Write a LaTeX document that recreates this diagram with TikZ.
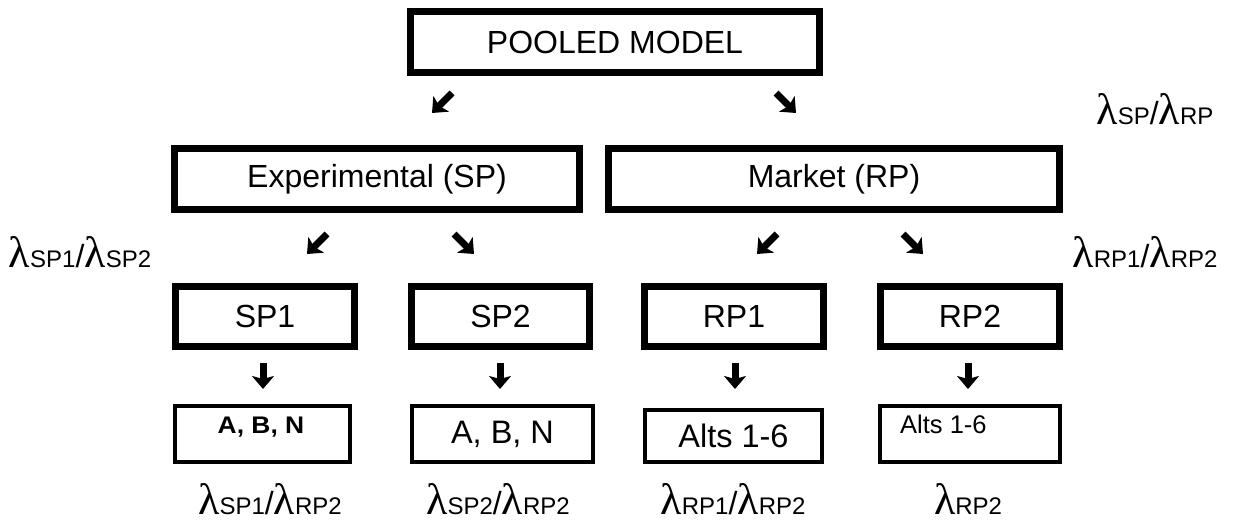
\documentclass[tikz,border=0pt]{standalone}
\usepackage{fontspec}
\setmainfont{Liberation Sans}
\newfontfamily\lamfont{Liberation Serif}
\usetikzlibrary{arrows.meta}

% scale parameter label: lambda with a subscript
\newcommand{\lamsub}[1]{{\fontsize{44}{44}\selectfont\lamfont λ}{\fontsize{24}{24}\selectfont #1}}
\newcommand{\lamslash}{{\fontsize{32}{32}\selectfont /}}

\begin{document}
\begin{tikzpicture}[x=1pt,y=-1pt,
  heavybox/.style={draw, line width=7pt, inner sep=0pt, font=\fontsize{32}{38}\selectfont},
  lightbox/.style={draw, line width=4pt, inner sep=0pt, font=\fontsize{32.5}{38}\selectfont},
  lamlabel/.style={anchor=base, inner sep=0pt},
  fatarrow/.style={line width=7pt, -{Stealth[width=22pt,length=13pt,inset=3pt]}},
]
\useasboundingbox (0,0) rectangle (1236,525);

% top level
\node[heavybox, minimum width=409pt, minimum height=61pt] (pool) at (615,42) {POOLED MODEL};

% second level
\node[heavybox, minimum width=405pt, minimum height=61pt] (exp) at (377,179) {Experimental (SP)};
\node[heavybox, minimum width=451pt, minimum height=61pt] (mkt) at (834,179) {Market (RP)};

% third level
\node[heavybox, minimum width=179pt, minimum height=60pt] (sp1) at (265,316.5) {SP1};
\node[heavybox, minimum width=178pt, minimum height=60pt] (sp2) at (500.5,316.5) {SP2};
\node[heavybox, minimum width=179pt, minimum height=60pt] (rp1) at (734,316.5) {RP1};
\node[heavybox, minimum width=179pt, minimum height=60pt] (rp2) at (970,316.5) {RP2};

% alternatives
\node[lightbox, minimum width=175pt, minimum height=56pt] (alt1) at (262.5,434) {};
\node[anchor=base, inner sep=0pt, font=\fontsize{24}{28}\selectfont\bfseries] (alt1t) at (261,433) {\scalebox{1.1}[1]{A, B, N}};
\node[lightbox, minimum width=181pt, minimum height=56pt] (alt2) at (502.5,434) {A, B, N};
\node[lightbox, minimum width=177pt, minimum height=52pt] (alt3) at (733.5,436) {Alts 1-6};
\node[lightbox, minimum width=180pt, minimum height=56pt] (alt4) at (970,434) {};
\node[anchor=base west, inner sep=0pt, font=\fontsize{25.5}{30}\selectfont] (alt4t) at (900,433) {Alts 1-6};

% arrow end points
\coordinate (p1s) at (452,93);  \coordinate (p1e) at (432,113);
\coordinate (p2s) at (776,93);  \coordinate (p2e) at (796,113);
\coordinate (e1s) at (327,234); \coordinate (e1e) at (307,254);
\coordinate (e2s) at (454,234); \coordinate (e2e) at (474,254);
\coordinate (m1s) at (777,234); \coordinate (m1e) at (757,254);
\coordinate (m2s) at (903,234); \coordinate (m2e) at (923,254);
\coordinate (s1s) at (263,363); \coordinate (s1e) at (263,389);
\coordinate (s2s) at (500,363); \coordinate (s2e) at (500,389);
\coordinate (r1s) at (735,363); \coordinate (r1e) at (735,389);
\coordinate (r2s) at (968,363); \coordinate (r2e) at (968,389);

\foreach \a in {p1,p2,e1,e2,m1,m2,s1,s2,r1,r2}
  \draw[fatarrow] (\a s) -- (\a e);

% scale ratios
\node[lamlabel] (lsprp) at (1155,124) {\lamsub{SP}\lamslash\lamsub{RP}};
\node[lamlabel] (lsp) at (80,267) {\lamsub{SP1}\lamslash\lamsub{SP2}};
\node[lamlabel] (lrp) at (1145,267) {\lamsub{RP1}\lamslash\lamsub{RP2}};
\node[lamlabel] (lb1) at (270,514) {\lamsub{SP1}\lamslash\lamsub{RP2}};
\node[lamlabel] (lb2) at (498,514) {\lamsub{SP2}\lamslash\lamsub{RP2}};
\node[lamlabel] (lb3) at (733,514) {\lamsub{RP1}\lamslash\lamsub{RP2}};
\node[lamlabel] (lb4) at (968,514) {\lamsub{RP2}};
\end{tikzpicture}
\end{document}
